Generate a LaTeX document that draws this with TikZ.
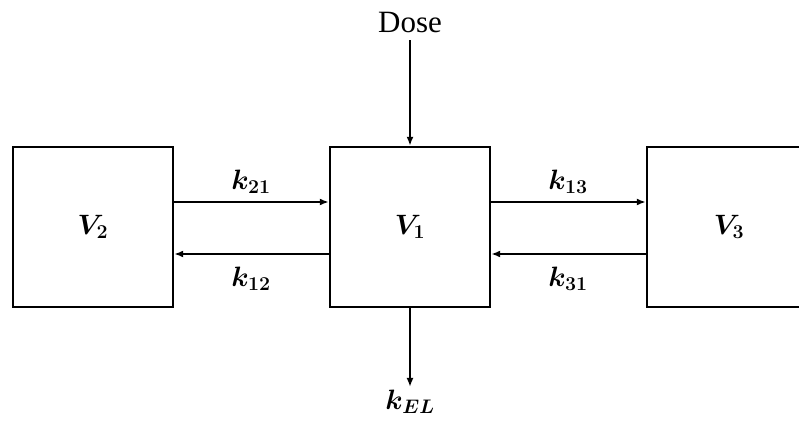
\RequirePackage{fix-cm}
\documentclass[tikz,border=0pt]{standalone}
\usepackage{fontspec}
\newfontfamily\dosefont{Liberation Serif}
\usetikzlibrary{arrows.meta}
\begin{document}
\begin{tikzpicture}[x=1pt,y=-1pt,
  comp/.style={draw,line width=2.4pt,minimum height=160pt,inner sep=0pt},
  flow/.style={line width=2pt,-{Latex[length=9pt,width=7pt]}},
  lbl/.style={inner sep=3pt,font=\fontsize{28}{33}\selectfont\boldmath}]
\useasboundingbox (0,0) rectangle (799,427);
\node[comp,minimum width=160pt,lbl,inner sep=0pt] (v2) at (93,227) {$V_2$};
\node[comp,minimum width=160pt,lbl,inner sep=0pt] (v1) at (410,227) {$V_1$};
\node[comp,minimum width=164pt,lbl,inner sep=0pt] (v3) at (729,227) {$V_3$};
\draw[flow] (v2.east |- 0,202) -- (v1.west |- 0,202);
\draw[flow] (v1.west |- 0,254) -- (v2.east |- 0,254);
\draw[flow] (v1.east |- 0,202) -- (v3.west |- 0,202);
\draw[flow] (v3.west |- 0,254) -- (v1.east |- 0,254);
\node[lbl] (k21) at (251,182) {$k_{21}$};
\node[lbl] (k12) at (251,279) {$k_{12}$};
\node[lbl] (k13) at (568,182) {$k_{13}$};
\node[lbl] (k31) at (568,279) {$k_{31}$};
\node[lbl,font=\fontsize{31}{36}\dosefont] (dose) at (410,23) {Dose};
\node[lbl] (kel) at (410,402) {$k_{EL}$};
\draw[flow,shorten <=4pt] (dose.south) -- (v1.north);
\draw[flow] (v1.south) -- (kel.north);
\end{tikzpicture}
\end{document}
